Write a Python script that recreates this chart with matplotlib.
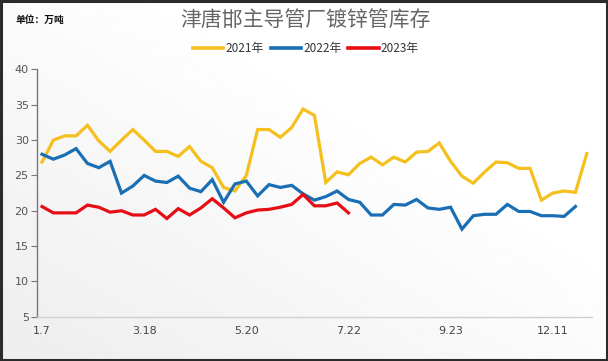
"""Tianjin/Tangshan/Handan galvanized pipe inventory, weekly, 2021-2023."""

import numpy as np
import matplotlib
matplotlib.use("Agg")
import matplotlib.pyplot as plt
from matplotlib.lines import Line2D

plt.rcParams["font.family"] = ["Noto Sans CJK SC", "DejaVu Sans"]

# ----- data (万吨) -----
x_labels = ["1.7", "3.18", "5.20", "7.22", "9.23", "12.11"]
label_step = 9

inv_2021 = [26.9, 30.0, 30.6, 30.6, 32.1, 29.9, 28.4, 30.0, 31.5, 30.0,
            28.4, 28.4, 27.7, 29.1, 27.0, 26.1, 23.3, 22.8, 25.0, 31.5,
            31.5, 30.4, 31.8, 34.4, 33.5, 24.0, 25.5, 25.1, 26.7, 27.6,
            26.5, 27.6, 26.9, 28.3, 28.4, 29.6, 27.0, 24.9, 23.9, 25.5,
            26.9, 26.8, 26.0, 26.0, 21.5, 22.5, 22.8, 22.6, 28.1]
inv_2022 = [28.0, 27.3, 27.9, 28.8, 26.7, 26.1, 27.0, 22.5, 23.5, 25.0,
            24.2, 24.0, 24.9, 23.2, 22.7, 24.4, 21.2, 23.8, 24.2, 22.1,
            23.7, 23.3, 23.6, 22.4, 21.5, 22.0, 22.8, 21.6, 21.2, 19.4,
            19.4, 20.9, 20.8, 21.6, 20.4, 20.2, 20.5, 17.4, 19.3, 19.5,
            19.5, 20.9, 19.9, 19.9, 19.3, 19.3, 19.2, 20.6]
inv_2023 = [20.6, 19.7, 19.7, 19.7, 20.8, 20.5, 19.8, 20.0, 19.4, 19.4,
            20.2, 18.9, 20.3, 19.4, 20.4, 21.7, 20.4, 19.0, 19.7, 20.1,
            20.2, 20.5, 20.9, 22.3, 20.7, 20.7, 21.1, 19.7]

series = [
    ("2021年", inv_2021, "#F5C01E"),
    ("2022年", inv_2022, "#1A6EB4"),
    ("2023年", inv_2023, "#E60E14"),
]

fig = plt.figure(figsize=(6.08, 3.61), dpi=100)

# ----- background: soft diagonal gradient + dark frame -----
bg = fig.add_axes([0, 0, 1, 1], zorder=-10)
gx, gy = np.meshgrid(np.linspace(0, 1, 300), np.linspace(0, 1, 200))
t = np.clip((gx + gy) / 1.3, 0, 1)
bg.imshow(0.93 + 0.07 * t, cmap="gray", vmin=0, vmax=1, origin="lower",
          extent=[0, 1, 0, 1], aspect="auto")
bg.set_xlim(0, 1)
bg.set_ylim(0, 1)
bg.axis("off")
fig.patches.append(plt.Rectangle((0.0015, 0.003), 0.997, 0.994, transform=fig.transFigure,
                                 fill=False, edgecolor="#2b2b2b", linewidth=2.2))

# ----- main plot -----
ax = fig.add_axes([0.0609, 0.1227, 0.9128, 0.6848])
ax.patch.set_alpha(0)
for name, vals, color in series:
    ax.plot(range(len(vals)), vals, color=color, linewidth=2.3,
            solid_joinstyle="miter")

ax.set_ylim(5, 40)
ax.set_yticks(range(5, 41, 5))
ax.set_xlim(-0.44, 48.46)
ax.set_xticks(range(0, label_step * len(x_labels), label_step))
ax.set_xticklabels(x_labels, family="DejaVu Sans")

for side in ("top", "right"):
    ax.spines[side].set_visible(False)
ax.spines["left"].set_color("#777777")
ax.spines["left"].set_linewidth(1.0)
ax.spines["bottom"].set_color("#d0d0d0")
ax.spines["bottom"].set_linewidth(1.0)
ax.tick_params(axis="y", length=4, color="#777777", labelsize=8,
               labelcolor="#555555", pad=2)
ax.tick_params(axis="x", length=0, labelsize=8, labelcolor="#444444", pad=7)
for lbl in ax.get_yticklabels():
    lbl.set_family("DejaVu Sans")

# ----- titles and legend -----
fig.text(0.503, 0.944, "津唐邯主导管厂镀锌管库存", ha="center", va="center",
         fontsize=15, color="#666666")
fig.text(0.025, 0.944, "单位：万吨", ha="left", va="center", fontsize=7,
         color="#111111", fontweight="bold")

handles = [Line2D([], [], color=c, linewidth=2.6) for _, _, c in series]
fig.legend(handles, [n for n, _, _ in series], loc="center",
           bbox_to_anchor=(0.503, 0.865), ncol=3, frameon=False, fontsize=8.5,
           handlelength=2.6, handletextpad=0.15, columnspacing=0.6,
           labelcolor="#333333")

fig.savefig("out.png", dpi=100)
plt.close(fig)
